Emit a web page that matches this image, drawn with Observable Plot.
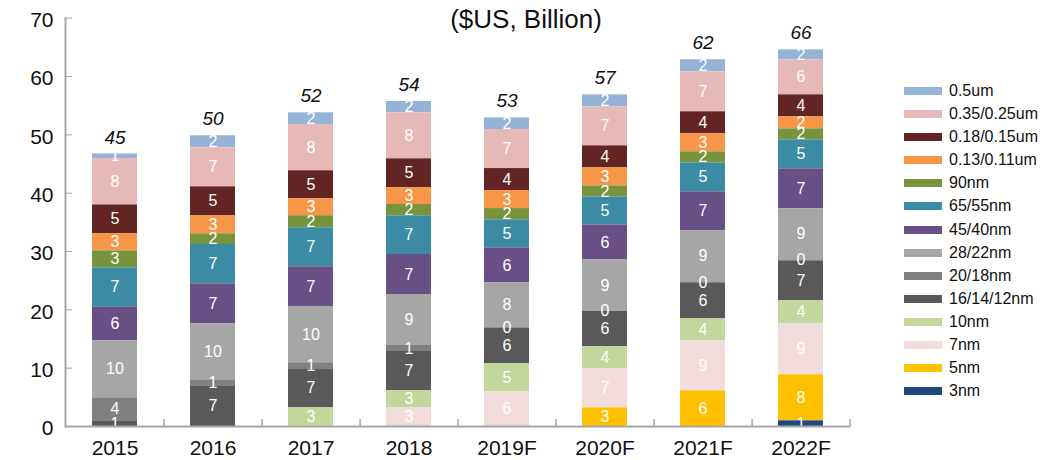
<!DOCTYPE html>
<html>
<head>
<meta charset="utf-8">
<script src="https://cdn.jsdelivr.net/npm/d3@7"></script>
<script src="https://cdn.jsdelivr.net/npm/@observablehq/plot@0.6"></script>
<style>
  html, body { margin: 0; padding: 0; background: #fff; }
  #wrap { position: relative; width: 1059px; height: 460px; font-family: "Liberation Sans", Arial, sans-serif; }
  #title { position: absolute; left: 0; width: 1052px; top: 5px; text-align: center; font-size: 26px; line-height: 28px; color: #111; }
  #legend { position: absolute; left: 904px; top: 79.5px; }
  .row { display: flex; align-items: center; height: 23.08px; font-size: 16px; color: #111; }
  .sw { width: 38px; height: 8px; margin-right: 7px; }
</style>
</head>
<body>
<div id="wrap">
  <div id="chart"></div>
  <div id="title">($US, Billion)</div>
  <div id="legend"></div>
</div>
<script>
const years = ["2015", "2016", "2017", "2018", "2019F", "2020F", "2021F", "2022F"];
const totals = [45, 50, 52, 54, 53, 57, 62, 66];
// legend order (top to bottom)
const nodes = ["0.5um", "0.35/0.25um", "0.18/0.15um", "0.13/0.11um", "90nm", "65/55nm", "45/40nm", "28/22nm", "20/18nm", "16/14/12nm", "10nm", "7nm", "5nm", "3nm"];
const colors = ["#95B3D7", "#E6B9B8", "#632523", "#F79646", "#77933C", "#3A8BA3", "#684F86", "#A6A6A6", "#808080", "#595959", "#C3D69B", "#F2DCDB", "#FFC000", "#1F497D"];
const yTicks = [0, 10, 20, 30, 40, 50, 60, 70];

// series values (USD billion), by node, one value per year
const v_05um   = [0.80, 2.06, 2.00, 1.94, 2.00, 2.06, 2.06, 1.71];
const v_035um  = [7.94, 6.69, 7.94, 7.89, 6.69, 6.69, 6.86, 6.00];
const v_018um  = [4.91, 4.97, 4.80, 4.97, 3.77, 3.77, 3.77, 3.77];
const v_013um  = [2.97, 3.09, 2.91, 2.86, 3.09, 3.09, 3.09, 2.06];
const v_90nm   = [2.91, 1.83, 2.06, 1.94, 1.94, 1.89, 1.89, 1.89];
const v_65nm   = [6.69, 6.74, 6.69, 6.63, 4.80, 4.80, 4.97, 4.97];
const v_45nm   = [5.83, 6.86, 6.80, 6.86, 6.00, 6.00, 6.69, 6.86];
const v_28nm   = [9.77, 9.60, 9.66, 8.74, 7.66, 8.74, 8.74, 8.74];
const v_20nm   = [3.94, 1.03, 1.03, 1.03, 0.10, 0.10, 0.29, 0.17];
const v_16nm   = [0.97, 6.97, 6.69, 6.69, 6.06, 6.06, 6.06, 6.86];
const v_10nm   = [0, 0, 3.20, 2.91, 4.86, 3.77, 3.77, 3.94];
const v_7nm    = [0, 0, 0, 3.26, 5.94, 6.69, 8.57, 8.74];
const v_5nm    = [0, 0, 0, 0, 0, 3.20, 6.11, 7.89];
const v_3nm    = [0, 0, 0, 0, 0, 0, 0, 0.97];

const series = [v_05um, v_035um, v_018um, v_013um, v_90nm, v_65nm, v_45nm, v_28nm, v_20nm, v_16nm, v_10nm, v_7nm, v_5nm, v_3nm];

const rows = [];
nodes.forEach((n, k) => years.forEach((yr, i) => {
  if (series[k][i] > 0) rows.push({year: yr, node: n, value: series[k][i]});
}));
const colSum = years.map(yr => d3.sum(rows.filter(r => r.year === yr), r => r.value));
const tops = years.map((yr, i) => ({year: yr, top: colSum[i], label: totals[i]}));

const stackOrder = nodes.slice().reverse(); // 3nm at bottom
const axisColor = "#A6A6A6";
const font = "Liberation Sans, Arial, sans-serif";

const chart = Plot.plot({
  width: 1059,
  height: 460,
  marginLeft: 65,
  marginRight: 208.4,
  marginTop: 17.7,
  marginBottom: 34,
  style: {fontFamily: font, color: "#111", background: "#fff"},
  x: {domain: years, paddingInner: 0.54, paddingOuter: 0.27, label: null},
  y: {domain: [0, 70], label: null},
  color: {domain: nodes, range: colors},
  marks: [
    Plot.barY(rows, {x: "year", y: "value", fill: "node", order: stackOrder}),
    Plot.text(rows, Plot.stackY({x: "year", y: "value", z: "node", order: stackOrder, text: d => String(Math.round(d.value)), fill: "#fff", fontSize: 16})),
    Plot.text(tops, {x: "year", y: "top", text: "label", dy: -16.5, fontSize: 19, fontStyle: "italic", fill: "#111"}),
    Plot.frame({anchor: "left", stroke: axisColor, strokeWidth: 2}),
    Plot.ruleY([0], {stroke: axisColor, strokeWidth: 2}),
    Plot.ruleX(years, {x: d => d, dx: 49.1, y1: 0, y2: 1.2, stroke: axisColor, strokeWidth: 1.5}),
    Plot.axisY({ticks: yTicks, tickSize: 0, tickPadding: 12, fontSize: 21, dy: 2, label: null}),
    Plot.axisY({ticks: yTicks, tickSize: -7, text: null, stroke: axisColor, label: null}),
    Plot.axisX({tickSize: 0, tickPadding: 14, fontSize: 21, label: null})
  ]
});
document.getElementById("chart").appendChild(chart);

const cs = chart.scale("color");
const leg = d3.select("#legend");
cs.domain.forEach((n, i) => {
  const r = leg.append("div").attr("class", "row");
  r.append("div").attr("class", "sw").style("background", cs.range[i]);
  r.append("span").text(n);
});
</script>
</body>
</html>
